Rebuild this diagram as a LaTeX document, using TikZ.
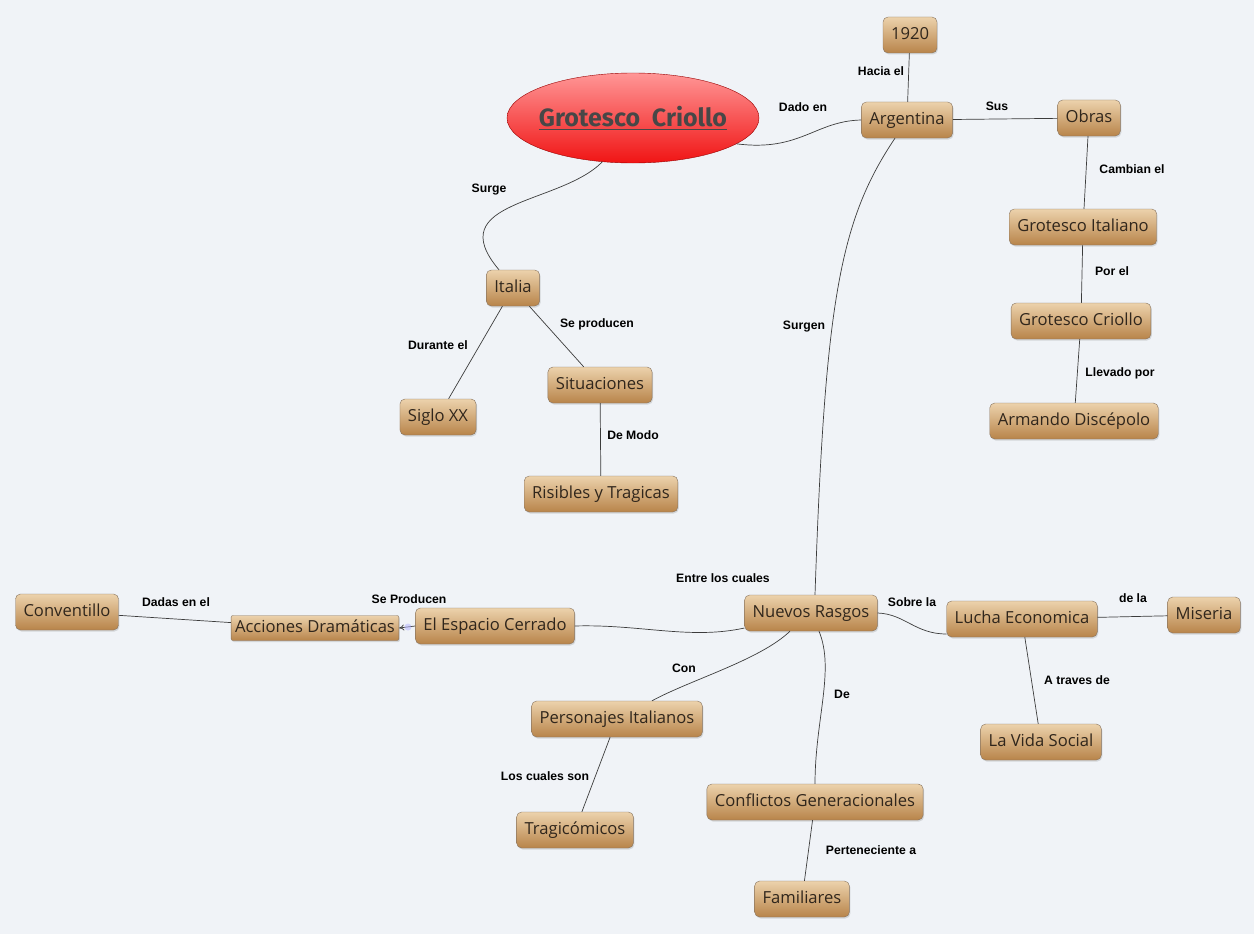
\documentclass[tikz,border=0pt]{standalone}
\usepackage{fontspec}
\setmainfont{Open Sans}
\newfontfamily\LblFont{Liberation Sans}
\newfontfamily\TitleFont{Fira Sans}
\usetikzlibrary{arrows.meta,shadows,shapes.geometric}
\definecolor{BgClr}{RGB}{240,243,247}
\definecolor{TopicTop}{RGB}{236,210,172}
\definecolor{TopicBot}{RGB}{184,132,74}
\definecolor{TopicLine}{RGB}{135,115,95}
\definecolor{TopicTxt}{RGB}{48,38,28}
\definecolor{LinkClr}{RGB}{60,60,60}
\definecolor{CentralTop}{RGB}{255,150,150}
\definecolor{CentralBot}{RGB}{240,20,20}

\begin{document}
\begin{tikzpicture}[x=1pt,y=-1pt,
  topic/.style={draw=TopicLine,rounded corners=5pt,top color=TopicTop,bottom color=TopicBot,
    text=TopicTxt,font=\fontsize{16.6}{18}\selectfont,minimum height=36pt,inner xsep=8pt,
    text height=12pt,text depth=3.5pt,
    drop shadow={opacity=.25,shadow xshift=1pt,shadow yshift=-1.5pt}},
  rel/.style={font=\LblFont\bfseries\fontsize{12.2}{14}\selectfont,text=black,inner sep=1pt},
  link/.style={draw=LinkClr,line width=.7pt}]

\fill[BgClr] (0,0) rectangle (1254,934);
\useasboundingbox (0,0) rectangle (1254,934);

% central topic
\node[ellipse,draw=red!60!black,line width=.4pt,top color=CentralTop,bottom color=CentralBot,
  minimum width=252pt,minimum height=90pt,inner xsep=-5pt,inner ysep=0pt,text=black!72,
  font=\TitleFont\bfseries\fontsize{25}{28}\selectfont] (crit) at (633,118) {\underline{Grotesco\ \ Criollo}};

% topics
\node[topic] (y1920) at (910,35) {1920};
\node[topic] (arg) at (907,120) {Argentina};
\node[topic] (obras) at (1089,118) {Obras};
\node[topic] (gitaliano) at (1083,227) {Grotesco Italiano};
\node[topic] (gcriollo) at (1081,321) {Grotesco Criollo};
\node[topic] (armando) at (1074,421) {Armando Discépolo};
\node[topic] (italia) at (513,288) {Italia};
\node[topic] (situac) at (600,385) {Situaciones};
\node[topic] (siglo) at (438,417) {Siglo XX};
\node[topic] (risibles) at (601,494) {Risibles y Tragicas};
\node[topic] (nuevos) at (811,613) {Nuevos Rasgos};
\node[topic] (lucha) at (1022,619) {Lucha Economica};
\node[topic] (miseria) at (1204,615) {Miseria};
\node[topic] (vidasoc) at (1041,742) {La Vida Social};
\node[topic] (espacio) at (495,626) {El Espacio Cerrado};
\node[topic,minimum height=25pt,inner xsep=4pt,rounded corners=2pt] (acciones) at (315,628) {Acciones Dramáticas};
\node[topic] (convent) at (67,612) {Conventillo};
\node[topic] (personajes) at (617,719) {Personajes Italianos};
\node[topic] (tragic) at (575,830) {Tragicómicos};
\node[topic] (conflictos) at (815,802) {Conflictos Generacionales};
\node[topic] (familia) at (802,899) {Familiares};

% connectors
\draw[link] (arg) -- (y1920);
\draw[link] (crit.-14) .. controls (800,152) and (815,121) .. (arg.west);
\draw[link] (arg) -- (obras);
\draw[link] (obras) -- (gitaliano);
\draw[link] (gitaliano) -- (gcriollo);
\draw[link] (gcriollo) -- (armando);
\draw[link] (crit.-125) .. controls (560,205) and (440,200) .. ([xshift=-14pt]italia.north);
\draw[link] (italia) -- (siglo);
\draw[link] (italia) -- (situac);
\draw[link] (situac) -- (risibles);
\draw[link] ([xshift=-12pt]arg.south) .. controls (840,220) and (825,300) .. ([xshift=4pt]nuevos.north);
\draw[link] (nuevos.east) .. controls (905,614) and (915,634) .. ([yshift=-15pt]lucha.west);
\draw[link] (lucha) -- (miseria);
\draw[link] (lucha) -- (vidasoc);
\draw[link] ([yshift=-15pt]nuevos.west) .. controls (690,640) and (640,624) .. (espacio.east);
\draw[link,-{To[length=5pt,width=6pt]}] (espacio.west) -- (acciones.east);
\node[circle,fill=blue!30,opacity=.5,inner sep=0pt,minimum size=7pt] (fold) at (408,627) {};
\draw[link] (acciones) -- (convent);
\draw[link] ([xshift=-21pt]nuevos.south) .. controls (760,660) and (690,680) .. ([xshift=35pt]personajes.north);
\draw[link] (personajes) -- (tragic);
\draw[link] ([xshift=8pt]nuevos.south) .. controls (835,670) and (815,720) .. (conflictos.north);
\draw[link] (conflictos) -- (familia);

% relation labels
\node[rel] (l1) at (881,71) {Hacia el};
\node[rel] (l2) at (803,107) {Dado en};
\node[rel] (l3) at (997,106) {Sus};
\node[rel] (l4) at (1132,169) {Cambian el};
\node[rel] (l5) at (1112,271) {Por el};
\node[rel] (l6) at (1120,373) {Llevado por};
\node[rel] (l7) at (489,190) {Surge};
\node[rel] (l8) at (597,324) {Se producen};
\node[rel] (l9) at (438,345) {Durante el};
\node[rel] (l10) at (633,435) {De Modo};
\node[rel] (l11) at (804,327) {Surgen};
\node[rel] (l12) at (723,578) {Entre los cuales};
\node[rel] (l13) at (912,602) {Sobre la};
\node[rel] (l14) at (1133,598) {de la};
\node[rel] (l15) at (1077,680) {A traves de};
\node[rel] (l16) at (409,599) {Se Producen};
\node[rel] (l17) at (176,602) {Dadas en el};
\node[rel] (l18) at (684,668) {Con};
\node[rel] (l19) at (842,694) {De};
\node[rel] (l20) at (545,776) {Los cuales son};
\node[rel] (l21) at (871,850) {Perteneciente a};
\end{tikzpicture}
\end{document}
